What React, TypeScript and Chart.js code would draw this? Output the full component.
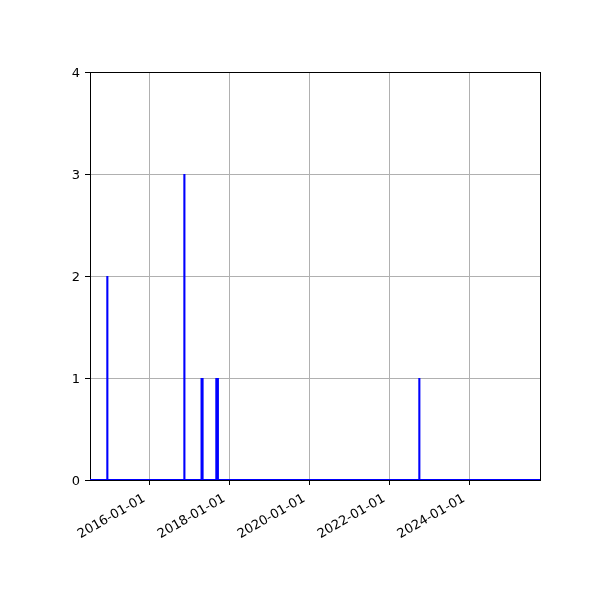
import React, { useEffect, useRef } from 'react';
import { Chart, registerables } from 'chart.js';

Chart.register(...registerables);

// dates with a non-zero count (every other day is 0)
const eventDates = [
  '2014-12-13',
  '2016-11-16',
  '2017-04-22',
  '2017-05-01',
  '2017-09-04',
  '2017-09-18',
  '2022-10-03',
];
const eventCounts = [2, 3, 1, 1, 1, 1, 1];

const rangeStart = '2014-07-08';
const rangeEnd = '2025-10-10';
const tickDates = ['2016-01-01', '2018-01-01', '2020-01-01', '2022-01-01', '2024-01-01'];
const yTicks = [0, 1, 2, 3, 4];

const DAY = 86400000;
const toDay = (s: string) => Date.parse(s + 'T00:00:00Z') / DAY;
const fromDay = (d: number) => new Date(Math.round(d) * DAY).toISOString().slice(0, 10);

const FONT = { family: "'DejaVu Sans', sans-serif", size: 13 };

const frame = {
  id: 'frame',
  beforeDatasetsDraw(chart: any) {
    const { ctx, chartArea } = chart;
    ctx.save();
    ctx.strokeStyle = '#000';
    ctx.lineWidth = 1;
    ctx.strokeRect(
      Math.round(chartArea.left) + 0.5,
      Math.round(chartArea.top) + 0.5,
      Math.round(chartArea.right - chartArea.left),
      Math.round(chartArea.bottom - chartArea.top)
    );
    ctx.restore();
  },
};

const App: React.FC = () => {
  const canvasRef = useRef<HTMLCanvasElement>(null);
  const chartRef = useRef<Chart | null>(null);

  useEffect(() => {
    document.body.style.margin = '0';
    if (!canvasRef.current) return;
    const ctx = canvasRef.current.getContext('2d');
    if (!ctx) return;
    if (chartRef.current) chartRef.current.destroy();

    const points: { x: number; y: number }[] = [{ x: toDay(rangeStart), y: 0 }];
    eventDates.forEach((d, i) => {
      const day = toDay(d);
      points.push({ x: day - 1, y: 0 }, { x: day, y: eventCounts[i] }, { x: day + 1, y: 0 });
    });
    points.push({ x: toDay(rangeEnd), y: 0 });

    chartRef.current = new Chart(ctx, {
      type: 'line',
      data: {
        datasets: [
          {
            data: points,
            borderColor: '#0000ff',
            borderWidth: 2.1,
            pointRadius: 0,
            tension: 0,
            fill: false,
          },
        ],
      },
      options: {
        responsive: false,
        animation: false,
        layout: { padding: { top: 72, right: 60, left: 0, bottom: 0 } },
        plugins: { legend: { display: false }, tooltip: { enabled: false } },
        scales: {
          x: {
            type: 'linear',
            min: toDay(rangeStart),
            max: toDay(rangeEnd),
            afterBuildTicks: (scale: any) => {
              scale.ticks = tickDates.map((d) => ({ value: toDay(d) }));
            },
            afterFit: (scale: any) => {
              scale.height = 120;
            },
            grid: { color: '#b0b0b0', lineWidth: 1, tickColor: '#000', tickLength: 5 },
            border: { display: false },
            ticks: {
              color: '#000',
              font: FONT,
              padding: 6,
              labelOffset: -5,
              minRotation: 30,
              maxRotation: 30,
              autoSkip: false,
              callback: (v: any) => fromDay(Number(v)),
            },
          },
          y: {
            min: 0,
            max: 4,
            afterBuildTicks: (scale: any) => {
              scale.ticks = yTicks.map((v) => ({ value: v }));
            },
            afterFit: (scale: any) => {
              scale.width = 90;
            },
            grid: { color: '#b0b0b0', lineWidth: 1, tickColor: '#000', tickLength: 5 },
            border: { display: false },
            ticks: { color: '#000', font: FONT, padding: 5, labelOffset: 2 },
          },
        },
      },
      plugins: [frame],
    });

    return () => {
      if (chartRef.current) {
        chartRef.current.destroy();
        chartRef.current = null;
      }
    };
  }, []);

  return (
    <div style={{ width: 600, height: 600, background: '#fff' }}>
      <canvas ref={canvasRef} width={600} height={600}></canvas>
    </div>
  );
};

export default App;
